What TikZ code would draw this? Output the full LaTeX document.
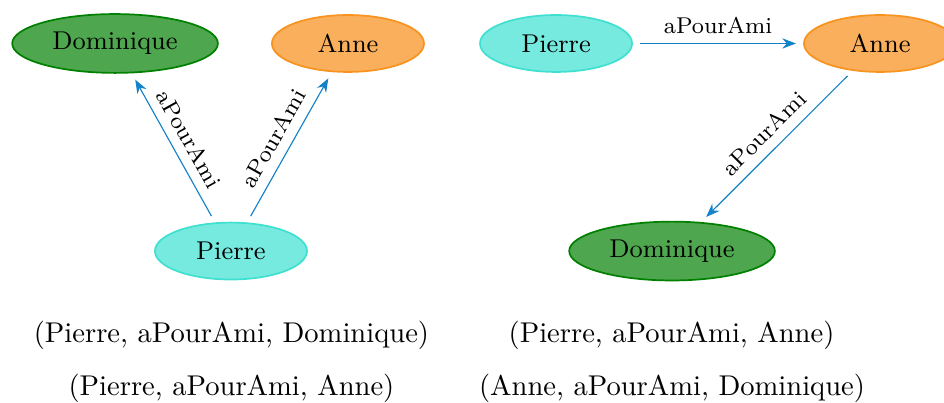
\documentclass[tikz,border=0pt]{standalone}
\usepackage{tikz}
\usetikzlibrary{positioning}
\usetikzlibrary{shapes.geometric, arrows.meta}
\definecolor{domfill}{RGB}{78,166,78}
\definecolor{domdraw}{RGB}{0,128,0}
\definecolor{annfill}{RGB}{249,175,92}
\definecolor{anndraw}{RGB}{247,147,30}
\definecolor{piefill}{RGB}{118,234,223}
\definecolor{piedraw}{RGB}{64,224,208}
\definecolor{relblue}{RGB}{20,130,200}

\begin{document}
\begin{tikzpicture}[
  entity/.style={ellipse,semithick,minimum width=1.87cm,minimum height=0.7cm,font=\small},
  dom/.style={entity,fill=domfill,draw=domdraw,minimum width=2.53cm},
  ann/.style={entity,fill=annfill,draw=anndraw},
  pie/.style={entity,fill=piefill,draw=piedraw},
  rel/.style={draw=relblue,thin,-{Stealth},shorten >=2.5pt,shorten <=2.5pt},
  lbl/.style={font=\footnotesize,sloped,above,midway}]
\useasboundingbox (0,0) rectangle (11.611,4.945);

% first graph
\node[dom] (dom1) at (1.415,4.410) {Dominique};
\node[ann] (ann1) at (4.280,4.410) {Anne};
\node[pie] (pie1) at (2.841,1.857) {Pierre};
\draw[rel] (pie1) -- node[lbl] {aPourAmi} (dom1);
\draw[rel] (pie1) -- node[lbl] {aPourAmi} (ann1);
\node (t11) at (2.847,0.824) {(Pierre, aPourAmi, Dominique)};
\node (t12) at (2.847,0.172) {(Pierre, aPourAmi, Anne)};

% second graph
\node[pie] (pie2) at (6.839,4.410) {Pierre};
\node[ann] (ann2) at (10.824,4.410) {Anne};
\node[dom] (dom2) at (8.266,1.857) {Dominique};
\draw[rel] (pie2) -- node[lbl] {aPourAmi} (ann2);
\draw[rel] (ann2) -- node[lbl] {aPourAmi} (dom2);
\node (t21) at (8.260,0.824) {(Pierre, aPourAmi, Anne)};
\node (t22) at (8.266,0.172) {(Anne, aPourAmi, Dominique)};

\end{tikzpicture}
\end{document}
